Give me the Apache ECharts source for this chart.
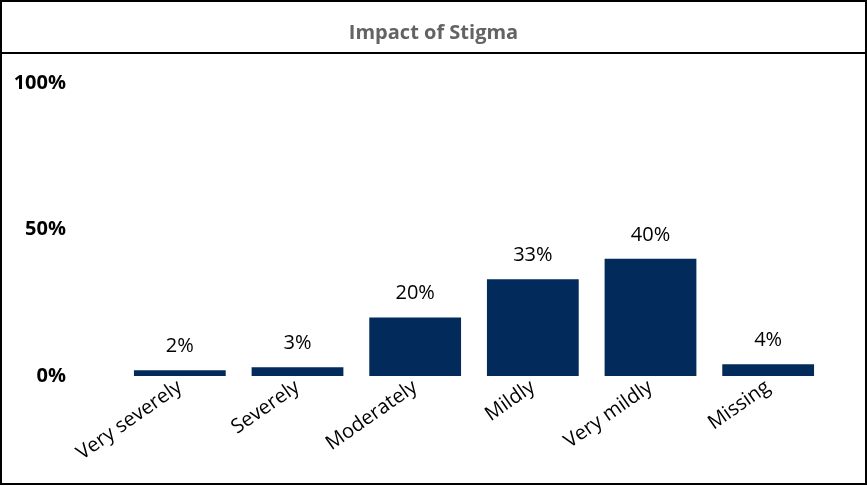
<!DOCTYPE html>
<html><head><meta charset="utf-8">
<script src="https://cdn.jsdelivr.net/npm/echarts@6/dist/echarts.min.js"></script>
<style>html,body{margin:0;padding:0;background:#fff}#c{width:867px;height:486px}</style>
</head><body><div id="c"></div>
<script>
const categories = ['Very severely','Severely','Moderately','Mildly','Very mildly','Missing'];
const values = [2,3,20,33,40,4];
const yTicks = [0,50,100];
const titleText = 'Impact of Stigma';

const chart = echarts.init(document.getElementById('c'));
chart.setOption({
  animation:false,
  textStyle:{fontFamily:'Open Sans'},
  title:{text:titleText,left:'center',top:18,textStyle:{fontFamily:'Open Sans',fontSize:20,fontWeight:'bold',color:'#636363'}},
  graphic:[
    {type:'rect',shape:{x:1,y:1,width:865,height:483},style:{fill:'none',stroke:'#000',lineWidth:2},silent:true},
    {type:'line',shape:{x1:1,y1:53,x2:866,y2:53},style:{stroke:'#000',lineWidth:2},silent:true}
  ],
  grid:{left:121,right:40,top:83,bottom:110},
  xAxis:{type:'category',data:categories,axisLine:{show:false},axisTick:{show:false},
    axisLabel:{rotate:35,margin:9,fontSize:20,color:'#000',fontFamily:'Open Sans',interval:0}},
  yAxis:{type:'value',min:0,max:100,interval:50,splitLine:{show:false},axisLine:{show:false},axisTick:{show:false},
    axisLabel:{margin:55,fontSize:20,fontWeight:'bold',color:'#000',fontFamily:'Open Sans',
      formatter:v=>yTicks.includes(v)?v+'%':''}},
  series:[{type:'bar',data:values,barCategoryGap:'22%',itemStyle:{color:'#022B5C'},
    label:{show:true,position:'top',distance:14,fontSize:20,color:'#000',fontFamily:'Open Sans',formatter:p=>p.value+'%'}}]
});
</script></body></html>
